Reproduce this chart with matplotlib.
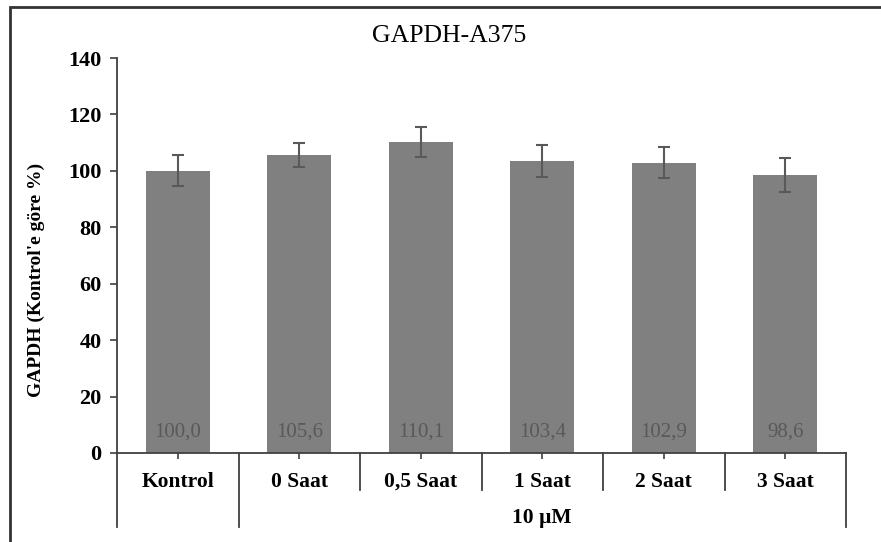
import matplotlib
matplotlib.use("Agg")
import matplotlib.pyplot as plt
from matplotlib.patches import Rectangle

categories = ["Kontrol", "0 Saat", "0,5 Saat", "1 Saat", "2 Saat", "3 Saat"]
values = [100.0, 105.6, 110.1, 103.4, 102.9, 98.6]
errors = [5.5, 4.4, 5.3, 5.6, 5.6, 6.0]
value_labels = ["100,0", "105,6", "110,1", "103,4", "102,9", "98,6"]
group_label = "10 µM"
title = "GAPDH-A375"
ylabel = "GAPDH (Kontrol'e göre %)"
yticks = [0, 20, 40, 60, 80, 100, 120, 140]

plt.rcParams['font.family'] = ['Liberation Serif', 'DejaVu Serif']

W, H = 881, 542
fig = plt.figure(figsize=(W / 100, H / 100), dpi=100)
ax = fig.add_axes([117 / W, 1 - 453 / H, (846 - 117) / W, (453 - 58) / H])

x = list(range(len(categories)))
ax.bar(x, values, width=0.53, color="#808080", zorder=2)
ax.errorbar(x, values, yerr=errors, fmt="none", ecolor="#595959",
            elinewidth=1.5, capsize=4.5, capthick=1.5, zorder=3)

for xi, lab in zip(x, value_labels):
    ax.text(xi, 4, lab, ha="center", va="bottom", fontsize=15,
            color="#595959", zorder=4)

ax.set_xlim(-0.5, len(categories) - 0.5)
ax.set_ylim(0, 140)
ax.set_yticks(yticks)
ax.set_yticklabels([str(t) for t in yticks], fontsize=16, fontweight="bold")
ax.set_xticks(x)
ax.set_xticklabels(categories, fontsize=15.5, fontweight="bold")
ax.tick_params(axis="x", length=4, width=1.2, color="#404040",
               pad=(485 - 453 - 4) / 1.389)
for lab in ax.get_xticklabels():
    lab.set_verticalalignment("baseline")
ax.tick_params(axis="y", length=5, width=1.2, color="#404040", pad=6)

for s in ["top", "right"]:
    ax.spines[s].set_visible(False)
for s in ["left", "bottom"]:
    ax.spines[s].set_color("#404040")
    ax.spines[s].set_linewidth(1.3)

ax.set_ylabel(ylabel, fontsize=14, fontweight="bold")
ax.yaxis.set_label_coords((45 - 117) / 729, (453 - 280) / 395)

# hierarchical category separators
tr = ax.get_xaxis_transform()
short_y = -(490 - 453) / 395
long_y = -(527 - 453) / 395
n = len(categories)
for i in range(n + 1):
    xb = i - 0.5
    yend = long_y if i in (0, 1, n) else short_y
    ax.plot([xb, xb], [0, yend], transform=tr, color="#404040",
            lw=1.3, clip_on=False)

ax.text((0.5 + n - 0.5) / 2, -(523 - 453) / 395, group_label, transform=tr,
        ha="center", va="baseline", fontsize=15.5, fontweight="bold")

fig.text(449 / W, 1 - 36 / H, title, ha="center", va="center", fontsize=18.5)

# outer frame
fig.patches.append(Rectangle((10 / W, -0.05), 1.2, 1 - 7 / H + 0.05,
                             transform=fig.transFigure, fill=False,
                             edgecolor="#333333", linewidth=2))

fig.savefig("out.png", dpi=100)
